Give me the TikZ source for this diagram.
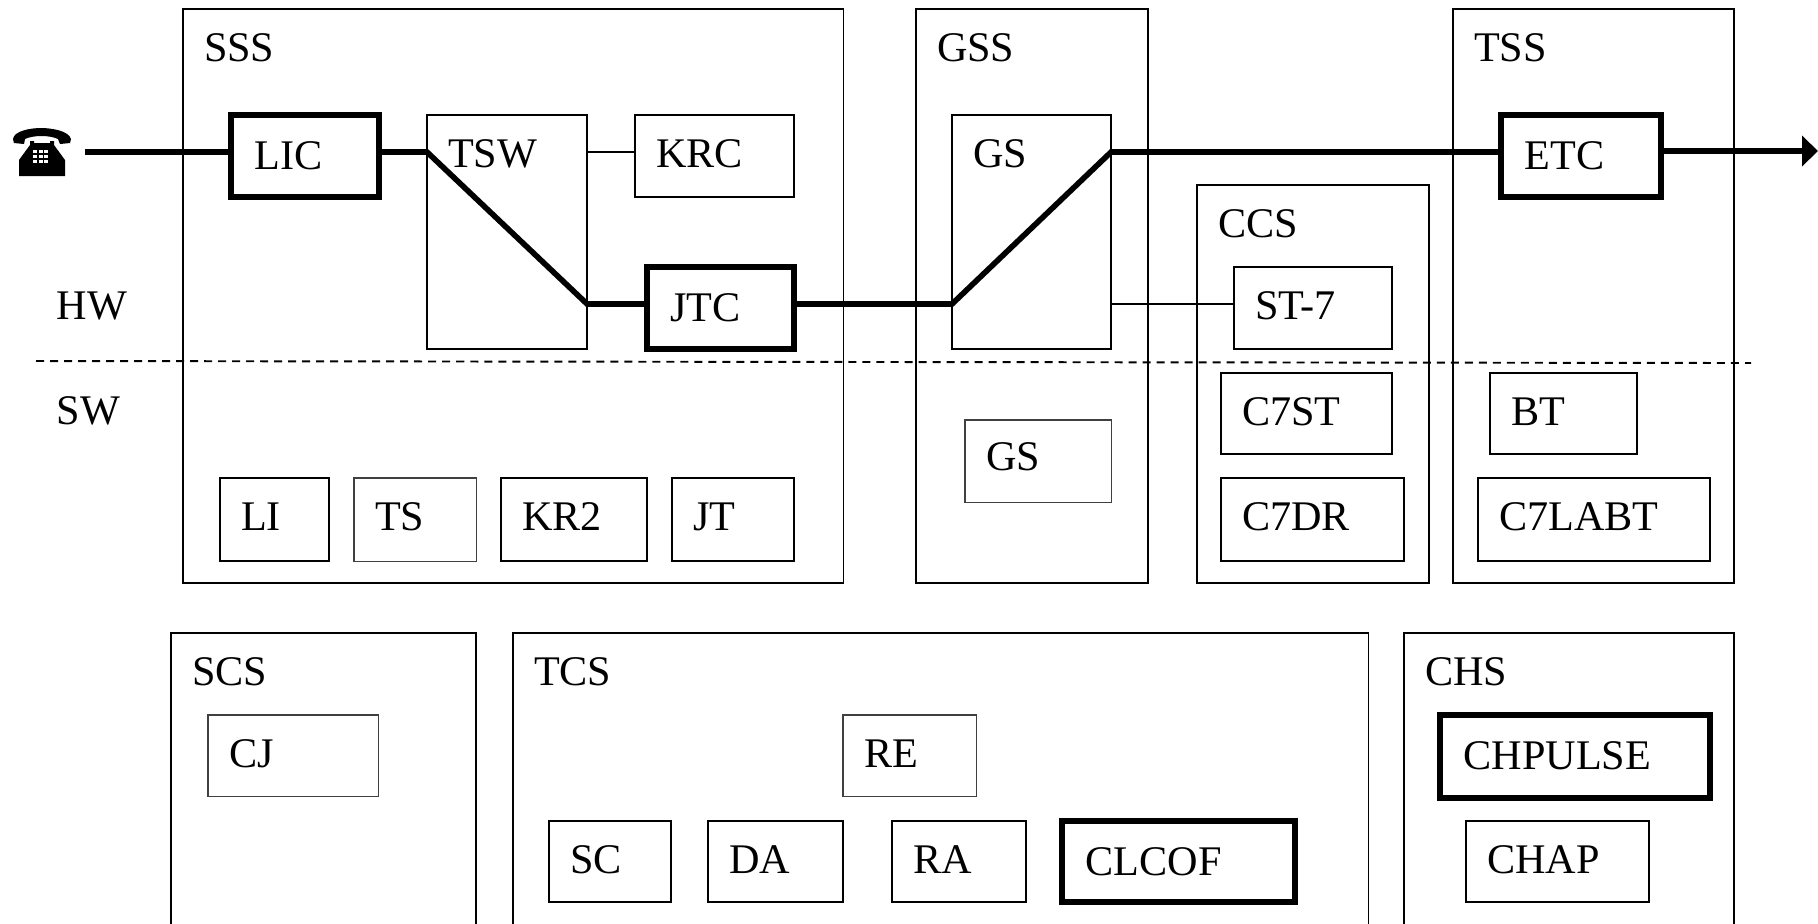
\documentclass[tikz,border=0pt]{standalone}
\usepackage{fontspec}
\setmainfont{Liberation Serif}
\usetikzlibrary{arrows.meta}

\begin{document}
\begin{tikzpicture}[x=0.01cm,y=-0.01cm]
\tikzset{
  boxsize/.style n args={3}{minimum width=#1*0.1mm,minimum height=#2*0.1mm,text width=(#1-42)*0.1mm,text height=#3*0.1mm,text depth=(#2-#3)*0.1mm},
  unitbox/.style={rectangle,draw=black,line width=0.5pt,anchor=north west,inner ysep=0pt,inner xsep=2.1mm,outer sep=0pt,align=left,font=\fontsize{12}{14}\selectfont},
  hairbox/.style={unitbox,draw=black!75,line width=0.32pt},
  activebox/.style={unitbox,line width=1.6pt,inner xsep=2.35mm},
  sidelabel/.style={anchor=base west,inner sep=0pt,font=\fontsize{12}{14}\selectfont},
  trunk/.style={draw=black,line width=1.6pt,line join=miter},
  branch/.style={draw=black,line width=0.5pt}
}
\useasboundingbox (0,0) rectangle (1818,923);
\clip (0,0) rectangle (1818,923);
\node[unitbox,boxsize={660}{574}{52}] (n_SSS) at (183,9) {SSS};
\node[unitbox,boxsize={232}{574}{52}] (n_GSS) at (916,9) {GSS};
\node[unitbox,boxsize={281}{574}{52}] (n_TSS) at (1453,9) {TSS};
\node[unitbox,boxsize={232}{398}{52}] (n_CCS) at (1197,185) {CCS};
\node[unitbox,boxsize={305}{400}{52}] (n_SCS) at (171,633) {SCS};
\node[unitbox,boxsize={855}{400}{52}] (n_TCS) at (513,633) {TCS};
\node[unitbox,boxsize={330}{400}{52}] (n_CHS) at (1404,633) {CHS};
\node[activebox,boxsize={143}{82}{54}] (n_LIC) at (231,115) {LIC};
\node[unitbox,boxsize={160}{234}{52}] (n_TSW) at (427,115) {TSW};
\node[unitbox,boxsize={159}{82}{52}] (n_KRC) at (635,115) {KRC};
\node[activebox,boxsize={142}{82}{54}] (n_JTC) at (647,267) {JTC};
\node[unitbox,boxsize={109}{83}{52}] (n_LI) at (220,478) {LI};
\node[hairbox,boxsize={122}{83}{52}] (n_TS) at (354,478) {TS};
\node[unitbox,boxsize={146}{83}{52}] (n_KR2) at (501,478) {KR2};
\node[unitbox,boxsize={122}{83}{52}] (n_JT) at (672,478) {JT};
\node[unitbox,boxsize={159}{234}{52}] (n_GSA) at (952,115) {GS};
\node[hairbox,boxsize={146}{82}{50}] (n_GSB) at (965,420) {GS};
\node[unitbox,boxsize={158}{82}{52}] (n_ST7) at (1234,267) {ST-7};
\node[unitbox,boxsize={171}{81}{52}] (n_C7ST) at (1221,373) {C7ST};
\node[unitbox,boxsize={183}{83}{52}] (n_C7DR) at (1221,478) {C7DR};
\node[activebox,boxsize={155}{82}{54}] (n_ETC) at (1501,115) {ETC};
\node[unitbox,boxsize={147}{81}{52}] (n_BT) at (1490,373) {BT};
\node[unitbox,boxsize={232}{83}{52}] (n_C7LABT) at (1478,478) {C7LABT};
\node[hairbox,boxsize={170}{81}{52}] (n_CJ) at (208,715) {CJ};
\node[hairbox,boxsize={133}{81}{52}] (n_RE) at (843,715) {RE};
\node[unitbox,boxsize={122}{81}{52}] (n_SC) at (549,821) {SC};
\node[unitbox,boxsize={135}{81}{52}] (n_DA) at (708,821) {DA};
\node[unitbox,boxsize={134}{81}{52}] (n_RA) at (892,821) {RA};
\node[activebox,boxsize={228}{81}{54}] (n_CLCOF) at (1062,821) {CLCOF};
\node[activebox,boxsize={265}{83}{54}] (n_CHPULSE) at (1440,715) {CHPULSE};
\node[unitbox,boxsize={183}{81}{52}] (n_CHAP) at (1466,821) {CHAP};
\node[sidelabel] (n_HW) at (56,319) {HW};
\node[sidelabel] (n_SW) at (56,424) {SW};
\fill[black] (13,139) .. controls (14,131) and (30,128) .. (41,128) .. controls (52,128) and (69,131) .. (71,139) -- (70,143) -- (60,144) -- (58,139) .. controls (50,135) and (33,135) .. (25,139) -- (24,144) -- (14,143) -- cycle;
\fill[black] (30,141) -- (34,141) -- (34,143) -- (50,143) -- (50,141) -- (54,141) -- (54,145) -- (65,160) -- (65,176) -- (19,176) -- (19,160) -- (30,145) -- cycle;
\foreach \col in {0,1,2}
  \foreach \row in {0,1,2}
    \fill[white] (33+5.5*\col,150+5*\row) rectangle +(4,3);
\coordinate (c_phone) at (85,152);
\coordinate (c_exit) at (1818,151);
\coordinate (c_top) at (0,152);
\coordinate (c_low) at (0,304);
\coordinate (c_dashl) at (36,361);
\coordinate (c_dashr) at (1751,363);
\draw[trunk] (c_phone) -- (c_phone -| n_LIC.west);
\draw[trunk] (n_LIC.east |- c_top) -- (n_TSW.west |- c_top) -- (n_TSW.east |- c_low) -- (n_JTC.west |- c_low);
\draw[trunk] (n_JTC.east |- c_low) -- (n_GSA.west |- c_low) -- (n_GSA.east |- c_top) -- (n_ETC.west |- c_top);
\draw[trunk,-{Triangle[length=1.6mm,width=3mm]}] (n_ETC.east |- c_exit) -- (c_exit);
\draw[branch] (n_TSW.east |- c_top) -- (n_KRC.west |- c_top);
\draw[branch] (n_GSA.east |- c_low) -- (n_ST7.west |- c_low);
\draw[branch,line width=0.55pt,dash pattern=on 0.8mm off 0.6mm] (c_dashl) -- (c_dashr);
\end{tikzpicture}
\end{document}
